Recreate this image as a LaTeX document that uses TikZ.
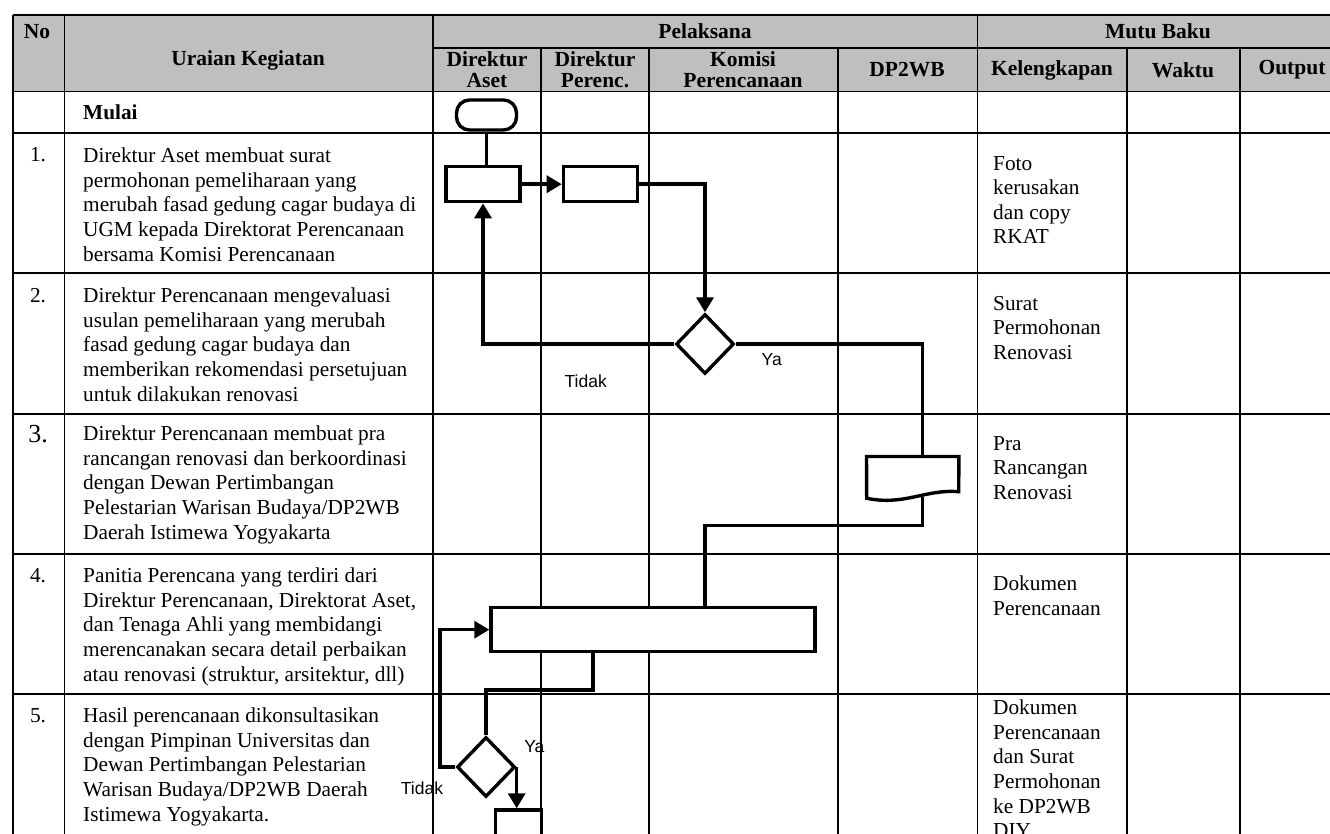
\documentclass[tikz,border=0pt]{standalone}
\usepackage{fontspec}
\setmainfont{Liberation Serif}
\newfontfamily\labelfont{Liberation Sans}
\usetikzlibrary{arrows.meta,positioning,shapes.geometric,calc}

\begin{document}
\begin{tikzpicture}
  [x=1pt,y=-1pt,
  garis/.style={line width=1.6pt},
  judul/.style={font=\fontsize{21.5}{21}\selectfont\bfseries, align=center, inner sep=0pt},
  isi/.style={font=\fontsize{21.3}{24.6}\selectfont, align=left, anchor=north west, inner sep=0pt},
  nomor/.style={font=\fontsize{21.3}{24.6}\selectfont, anchor=base, inner sep=0pt},
  ket/.style={font=\labelfont\fontsize{17.5}{20}\selectfont, inner sep=0pt},
  proses/.style={rectangle, draw, fill=white, line width=3.4pt, minimum width=74pt, minimum height=35pt, inner sep=0pt},
  mulai/.style={rectangle, draw, fill=white, line width=3.4pt, rounded corners=13pt, minimum width=60pt, minimum height=30pt, inner sep=0pt},
  pilih/.style={diamond, draw, fill=white, line width=3.4pt, minimum width=58pt, minimum height=60pt, inner sep=0pt},
  alur/.style={line width=3.4pt},
  panah/.style={alur, -{Triangle[length=15pt,width=17pt]}}]
  \useasboundingbox (0,0) rectangle (1330,834);
  \clip (0,0) rectangle (1330,834);
  \fill[black!25] (12.7,15) rectangle (1345,91.7);
  \draw[garis] (12.7,15) -- (1345,15);
  \draw[garis] (433,48) -- (1345,48);
  \foreach \y in {91.7,133.3,273.3,414,554,694}
    \draw[garis] (12.7,\y) -- (1345,\y);
  \foreach \x in {12.7,64.3,433,977.3,1344}
    \draw[garis] (\x,15) -- (\x,840);
  \foreach \x in {541,649,837.7,1126.7,1240}
    \draw[garis] (\x,48) -- (\x,840);
  \node (hNo) [judul] at (37,32) {No};
  \node (hUraian) [judul] at (248,60) {Uraian Kegiatan};
  \node (hPelaksana) [judul] at (705,31) {Pelaksana};
  \node (hMutu) [judul] at (1158,31) {Mutu Baku};
  \node (hAset) [judul] at (487,70) {Direktur\\Aset};
  \node (hPerenc) [judul] at (595,70) {Direktur\\Perenc.};
  \node (hKomisi) [judul] at (743,70) {Komisi\\Perencanaan};
  \node (hDP) [judul] at (907,70) {DP2WB};
  \node (hLengkap) [judul] at (1052,70) {Kelengkapan};
  \node (hWaktu) [judul] at (1183,70) {Waktu};
  \node (hOutput) [judul] at (1292,70) {Output};
  \node (mulaiteks) [nomor, anchor=base west, font=\fontsize{21.3}{24.6}\selectfont\bfseries] at (83,120) {Mulai};
  \node (n1) [nomor] at (38,162) {1.};
  \node (n2) [nomor] at (38,302) {2.};
  \node (n3) [nomor, font=\fontsize{26}{28}\selectfont] at (38,442) {3.};
  \node (n4) [nomor] at (38,582) {4.};
  \node (n5) [nomor] at (38,722) {5.};
  \node (u1) [isi] at (83,147.7) {Direktur Aset membuat surat\\permohonan pemeliharaan yang\\merubah fasad gedung cagar budaya di\\UGM kepada Direktorat Perencanaan\\bersama Komisi Perencanaan};
  \node (u2) [isi] at (83,287.7) {Direktur Perencanaan mengevaluasi\\usulan pemeliharaan yang merubah\\fasad gedung cagar budaya dan\\memberikan rekomendasi persetujuan\\untuk dilakukan renovasi};
  \node (u3) [isi] at (83,425.7) {Direktur Perencanaan membuat pra\\rancangan renovasi dan berkoordinasi\\dengan Dewan Pertimbangan\\Pelestarian Warisan Budaya/DP2WB\\Daerah Istimewa Yogyakarta};
  \node (u4) [isi] at (83,567.7) {Panitia Perencana yang terdiri dari\\Direktur Perencanaan, Direktorat Aset,\\dan Tenaga Ahli yang membidangi\\merencanakan secara detail perbaikan\\atau renovasi (struktur, arsitektur, dll)};
  \node (u5) [isi] at (83,707.7) {Hasil perencanaan dikonsultasikan\\dengan Pimpinan Universitas dan\\Dewan Pertimbangan Pelestarian\\Warisan Budaya/DP2WB Daerah\\Istimewa Yogyakarta.};
  \node (k1) [isi] at (993,156) {Foto\\kerusakan\\dan copy\\RKAT};
  \node (k2) [isi] at (993,296) {Surat\\Permohonan\\Renovasi};
  \node (k3) [isi] at (993,436) {Pra\\Rancangan\\Renovasi};
  \node (k4) [isi] at (993,575.7) {Dokumen\\Perencanaan};
  \node (k5) [isi] at (993,699.7) {Dokumen\\Perencanaan\\dan Surat\\Permohonan\\ke DP2WB\\DIY};
  \node (start) [mulai] at (486.5,115) {};
  \node (a1) [proses] at (483,184.2) {};
  \node (a2) [proses, right=40pt of a1] {};
  \node (d1) [pilih] at (705,344) {};
  \node (doc) [minimum width=92pt, minimum height=40pt, inner sep=0pt] at (912.7,476.7) {};
  \node (a4) [proses, minimum width=324pt, minimum height=44pt] at (653,629.7) {};
  \node (d2) [pilih] at (486,767) {};
  \node (a5) [proses, minimum width=46pt, minimum height=60pt] at (518.7,840) {};
  \coordinate (docin) at ([xshift=10pt]doc.north);
  \coordinate (docout) at ([xshift=10pt]doc.south);
  \coordinate (a4out) at ([xshift=-60pt]a4.south);
  \draw[line width=3.4pt, fill=white] (doc.north west) -- (doc.north east) -- (958.7,491.7)
    .. controls (925,489) and (905,506) .. (866.7,498.3) -- cycle;
  \draw[alur] (start.south) -- (start.south |- a1.north);
  \draw[panah] (a1) -- (a2);
  \draw[panah] (a2.east) -| (d1.north);
  \draw[panah] (d1.west) -| (a1.south);
  \draw[alur] (d1.east) -| (docin);
  \draw[alur] (docout) -- ++(0,28.3) -| (a4.north -| d1.south);
  \draw[alur] (a4out) -- ++(0,36.7) -| (d2.north);
  \draw[panah] (d2.west) -- ++(-15.3,0) |- (a4.west);
  \draw[panah] (d2.east) -- (d2.east |- a5.north);
  \node (ya1) [ket] at (771.7,359.3) {Ya};
  \node (tidak1) [ket] at (585.7,381.7) {Tidak};
  \node (ya2) [ket] at (534.3,746.7) {Ya};
  \node (tidak2) [ket] at (422,788) {Tidak};
\end{tikzpicture}
\end{document}
